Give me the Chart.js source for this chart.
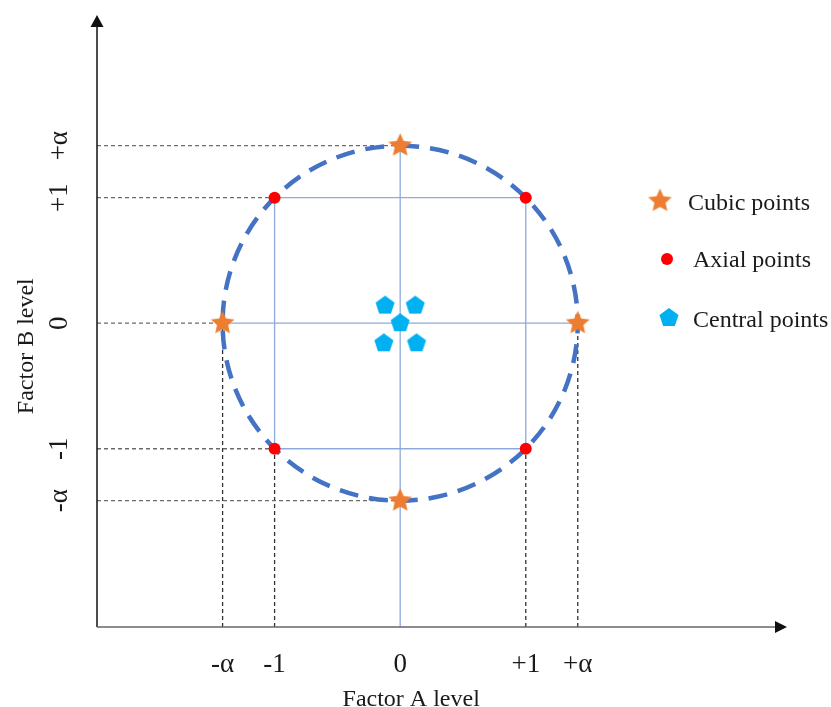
<!DOCTYPE html>
<html>
<head>
<meta charset="utf-8">
<script src="https://cdn.jsdelivr.net/npm/chart.js@4"></script>
<style>
  html, body { margin: 0; padding: 0; background: #fff; }
  canvas { display: block; }
</style>
</head>
<body>
<canvas id="chart" width="831" height="707"></canvas>
<script>
const ALPHA = 1.414;

// axis levels
const tickValues = [-ALPHA, -1, 0, 1, ALPHA];
const tickLabels = ['-α', '-1', '0', '+1', '+α'];

// design points
const cubicX = [0, 0, -ALPHA, ALPHA];
const cubicY = [ALPHA, -ALPHA, 0, 0];
const axialX = [-1, 1, 1, -1];
const axialY = [1, 1, -1, -1];
const centralX = [0, -0.12, 0.12, -0.13, 0.13];
const centralY = [0, 0.14, 0.14, -0.16, -0.16];

// where each dashed guide stops
const hGuideY = [-ALPHA, -1, 0, 1, ALPHA];
const hGuideEnd = [0, -1, -ALPHA, -1, 0];
const vGuideX = [-ALPHA, -1, 1, ALPHA];
const vGuideEnd = [0, -1, -1, 0];

const xRange = [-2.414, 3.08];
const yRange = [-2.42, 2.455];

const legendLabels = ['Cubic points', 'Axial points', 'Central points'];

const SERIF = '"Liberation Serif", "Times New Roman", serif';
const FONT = '24px ' + SERIF;
const TICK_FONT = '27px ' + SERIF;

function polyImage(n, R, inner, color) {
    const s = Math.ceil(2 * R + 2);
    const c = document.createElement('canvas');
    c.width = s; c.height = s;
    const g = c.getContext('2d');
    g.fillStyle = color;
    g.beginPath();
    const steps = inner ? n * 2 : n;
    for (let i = 0; i < steps; i++) {
        const r = inner && i % 2 ? R * inner : R;
        const a = -Math.PI / 2 + i * 2 * Math.PI / steps;
        g.lineTo(s / 2 + r * Math.cos(a), s / 2 + r * Math.sin(a));
    }
    g.closePath();
    g.fill();
    return c;
}

const starImg = polyImage(5, 12.5, 0.47, '#ed7d31');
const pentImg = polyImage(5, 10, 0, '#00b0f0');

const toPts = (xs, ys) => xs.map((x, i) => ({ x: x, y: ys[i] }));

const datasets = [
    { label: legendLabels[0], data: toPts(cubicX, cubicY), pointStyle: starImg, pointRadius: 12 },
    { label: legendLabels[1], data: toPts(axialX, axialY), pointStyle: 'circle', pointRadius: 6,
      backgroundColor: '#ff0000', borderColor: '#ff0000', borderWidth: 0 },
    { label: legendLabels[2], data: toPts(centralX, centralY), pointStyle: pentImg, pointRadius: 10 }
];

// thin blue frame lines
const blueLine = (pts) => ({ data: pts, showLine: true, pointRadius: 0, borderColor: '#8eaadc', borderWidth: 1.3, fill: false });
datasets.push(blueLine(toPts([-1, 1, 1, -1, -1], [-1, -1, 1, 1, -1])));
datasets.push(blueLine(toPts([-ALPHA, ALPHA], [0, 0])));
datasets.push(blueLine(toPts([0, 0], [ALPHA, yRange[0]])));

// gray dashed guides
hGuideY.forEach((y, i) => {
    datasets.push({ data: [{ x: xRange[0], y: y }, { x: hGuideEnd[i], y: y }], showLine: true, pointRadius: 0,
        borderColor: '#6b6b6b', borderWidth: 1.3, borderDash: [4, 3], fill: false });
});
vGuideX.forEach((x, i) => {
    datasets.push({ data: [{ x: x, y: yRange[0] }, { x: x, y: vGuideEnd[i] }], showLine: true, pointRadius: 0,
        borderColor: '#333', borderWidth: 1.3, borderDash: [4, 3], fill: false });
});

const overlay = {
    id: 'overlay',
    beforeDatasetDraw(chart, args) {
        if (args.index !== 2) return;
        const { ctx, scales: { x, y } } = chart;
        const cx = x.getPixelForValue(0), cy = y.getPixelForValue(0);
        const rx = x.getPixelForValue(ALPHA) - cx, ry = cy - y.getPixelForValue(ALPHA);
        ctx.save();
        ctx.strokeStyle = '#4472c4';
        ctx.lineWidth = 4.5;
        ctx.setLineDash([19, 11]);
        ctx.beginPath();
        ctx.ellipse(cx, cy, rx, ry, 0, -Math.PI / 2, 1.5 * Math.PI);
        ctx.stroke();
        ctx.restore();
    },
    afterDraw(chart) {
        const { ctx, chartArea: a, scales: { x, y } } = chart;
        ctx.save();
        // axes with arrows
        ctx.lineWidth = 1.5;
        ctx.strokeStyle = '#111'; ctx.fillStyle = '#111';
        ctx.beginPath(); ctx.moveTo(a.left, a.bottom); ctx.lineTo(a.left, a.top + 12); ctx.stroke();
        ctx.beginPath(); ctx.moveTo(a.left, a.top); ctx.lineTo(a.left - 6.5, a.top + 12); ctx.lineTo(a.left + 6.5, a.top + 12); ctx.closePath(); ctx.fill();
        ctx.strokeStyle = '#666';
        ctx.beginPath(); ctx.moveTo(a.left, a.bottom); ctx.lineTo(a.right - 12, a.bottom); ctx.stroke();
        ctx.fillStyle = '#111';
        ctx.beginPath(); ctx.moveTo(a.right, a.bottom); ctx.lineTo(a.right - 12, a.bottom - 6); ctx.lineTo(a.right - 12, a.bottom + 6); ctx.closePath(); ctx.fill();

        ctx.fillStyle = '#1a1a1a';
        ctx.textAlign = 'center';
        ctx.textBaseline = 'alphabetic';
        ctx.font = TICK_FONT;
        // x ticks
        tickValues.forEach((v, i) => ctx.fillText(tickLabels[i], x.getPixelForValue(v), a.bottom + 45));
        // y ticks, rotated
        tickValues.forEach((v, i) => {
            ctx.save();
            ctx.translate(a.left - 30, y.getPixelForValue(v));
            ctx.rotate(-Math.PI / 2);
            ctx.fillText(tickLabels[i], 0, 0);
            ctx.restore();
        });
        // titles
        ctx.font = FONT;
        ctx.fillText('Factor A level', x.getPixelForValue(0) + 11, a.bottom + 79);
        ctx.save();
        ctx.translate(a.left - 64, y.getPixelForValue(0) + 23);
        ctx.rotate(-Math.PI / 2);
        ctx.fillText('Factor B level', 0, 0);
        ctx.restore();

        // legend
        const icons = [
            { img: starImg, cx: 660, cy: 201, tx: 688, ty: 210 },
            { dot: true, cx: 667, cy: 259, tx: 693, ty: 267 },
            { img: pentImg, cx: 669, cy: 318, tx: 693, ty: 327 }
        ];
        ctx.textAlign = 'left';
        icons.forEach((it, i) => {
            if (it.dot) {
                ctx.fillStyle = '#ff0000';
                ctx.beginPath(); ctx.arc(it.cx, it.cy, 6, 0, Math.PI * 2); ctx.fill();
            } else {
                ctx.drawImage(it.img, it.cx - it.img.width / 2, it.cy - it.img.height / 2);
            }
            ctx.fillStyle = '#1a1a1a';
            ctx.fillText(legendLabels[i], it.tx, it.ty);
        });
        ctx.restore();
    }
};

new Chart(document.getElementById('chart').getContext('2d'), {
    type: 'scatter',
    data: { datasets: datasets },
    options: {
        responsive: false,
        animation: false,
        layout: { padding: { left: 97, right: 44, top: 15, bottom: 80 } },
        plugins: { legend: { display: false }, tooltip: { enabled: false } },
        scales: {
            x: { type: 'linear', min: xRange[0], max: xRange[1], display: false },
            y: { type: 'linear', min: yRange[0], max: yRange[1], display: false }
        },
        elements: { line: { tension: 0 } }
    },
    plugins: [overlay]
});
</script>
</body>
</html>
